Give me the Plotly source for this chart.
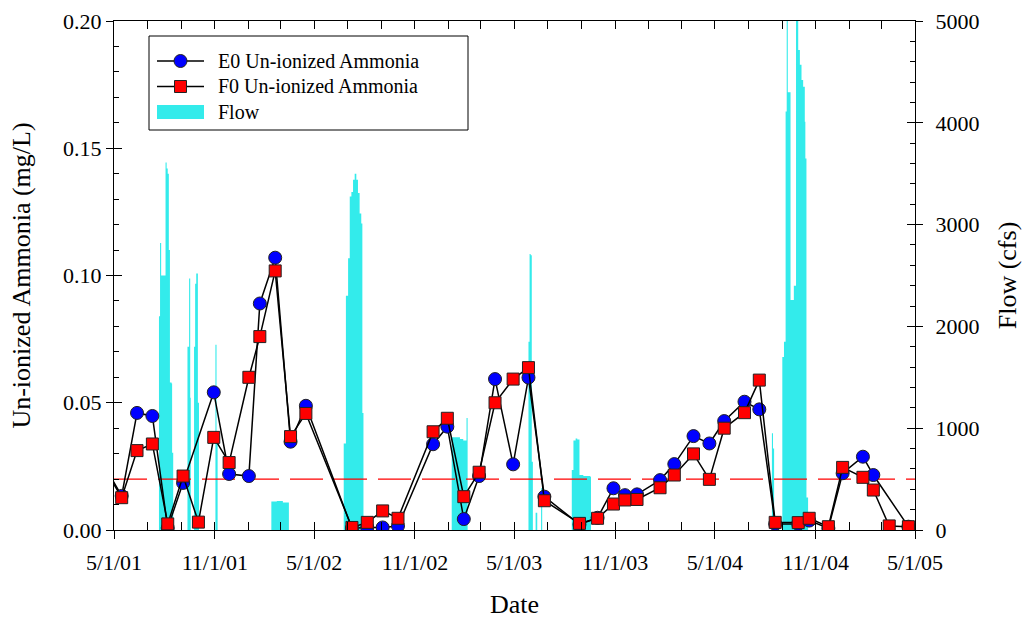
import plotly.graph_objects as go

# ---------------- data ----------------
sample_dates = [
    "2001-04-17", "2001-05-15", "2001-06-12", "2001-07-10", "2001-08-07", "2001-09-04",
    "2001-10-02", "2001-10-30", "2001-11-27", "2002-01-02", "2002-01-22", "2002-02-19",
    "2002-03-19", "2002-04-16", "2002-07-09", "2002-08-06", "2002-09-03", "2002-10-01",
    "2002-12-04", "2002-12-30", "2003-01-29", "2003-02-26", "2003-03-27", "2003-04-29",
    "2003-05-27", "2003-06-25", "2003-08-28", "2003-09-30", "2003-10-29", "2003-11-19",
    "2003-12-11", "2004-01-22", "2004-02-17", "2004-03-23", "2004-04-21", "2004-05-18",
    "2004-06-24", "2004-07-21", "2004-08-19", "2004-09-30", "2004-10-20", "2004-11-24",
    "2004-12-20", "2005-01-26", "2005-02-14", "2005-03-15", "2005-04-19",
]
e0_ammonia = [
    0.024, 0.0134, 0.0460, 0.0448, 0.0008, 0.0185,
    None, 0.0541, 0.0220, 0.0212, 0.0890, 0.1070,
    0.0347, 0.0488, 0.0007, 0.0010, 0.0010, 0.0016,
    0.0337, 0.0406, 0.0043, 0.0212, 0.0593, 0.0258,
    0.0599, 0.0131, 0.0022, 0.0048, 0.0164, 0.0137,
    0.0140, 0.0196, 0.0259, 0.0369, 0.0340, 0.0428,
    0.0504, 0.0474, 0.0024, 0.0024, 0.0037, 0.0007,
    0.0223, 0.0288, 0.0216, None, 0.0013,
]
f0_ammonia = [
    0.023, 0.0127, 0.0312, 0.0338, 0.0024, 0.0212,
    0.0031, 0.0364, 0.0265, 0.0600, 0.0760, 0.1018,
    0.0367, 0.0458, 0.0010, 0.0030, 0.0075, 0.0046,
    0.0386, 0.0439, 0.0131, 0.0227, 0.0500, 0.0593,
    0.0638, 0.0115, 0.0026, 0.0046, 0.0102, 0.0118,
    0.0120, 0.0166, 0.0216, 0.0299, 0.0199, 0.0400,
    0.0461, 0.0589, 0.0030, 0.0029, 0.0046, 0.0013,
    0.0246, 0.0207, 0.0157, 0.0016, 0.0013,
]

flow_dates = [
    "2001-05-01",
    "2001-07-22", "2001-07-24", "2001-07-26", "2001-07-29", "2001-08-03", "2001-08-05",
    "2001-08-07", "2001-08-09", "2001-08-11", "2001-08-14", "2001-08-15", "2001-08-17",
    "2001-09-12", "2001-09-15", "2001-09-17", "2001-09-18",
    "2001-09-24", "2001-09-26", "2001-09-28", "2001-10-01", "2001-10-03",
    "2001-11-02", "2001-11-04", "2001-11-06",
    "2002-02-12", "2002-02-22", "2002-03-05", "2002-03-16",
    "2002-06-24", "2002-06-28", "2002-07-02", "2002-07-05", "2002-07-08", "2002-07-11",
    "2002-07-14", "2002-07-17", "2002-07-20", "2002-07-23", "2002-07-26", "2002-07-28",
    "2002-07-30",
    "2003-01-07", "2003-01-22", "2003-01-28", "2003-02-03", "2003-02-05",
    "2003-05-27", "2003-05-29", "2003-05-31", "2003-06-02", "2003-06-04",
    "2003-06-09", "2003-06-12", "2003-06-19", "2003-06-21",
    "2003-08-14", "2003-08-17", "2003-08-21", "2003-08-24", "2003-08-28", "2003-09-04",
    "2003-09-17", "2003-09-18",
    "2004-08-13", "2004-08-15", "2004-08-17",
    "2004-09-01", "2004-09-04", "2004-09-07", "2004-09-09", "2004-09-11", "2004-09-16",
    "2004-09-22", "2004-09-26", "2004-09-30", "2004-10-03", "2004-10-06", "2004-10-09",
    "2004-10-12", "2004-10-13", "2004-10-15", "2004-10-18",
    "2005-05-01",
]
flow_cfs = [
    0,
    2100, 2820, 2500, 2500, 3610, 3550,
    3500, 2750, 1450, 1440, 760, 0,
    1800, 2470, 1300, 0,
    1800, 2420, 2520, 1250, 0,
    1820, 900, 0,
    280, 285, 270, 0,
    850, 2300, 2670, 3275, 3320, 3440,
    3500, 3440, 3310, 3110, 3010, 1150,
    0,
    910, 895, 880, 1100, 0,
    1850, 2710, 2700, 670, 0,
    170, 0, 410, 0,
    590, 880, 900, 890, 540, 530,
    520, 0,
    950, 800, 0,
    1700, 1850, 4110, 5200, 4300, 2260,
    2400, 5200, 4715, 4570, 4420, 4355,
    4010, 3650, 320, 0,
    0,
]

criterion = 0.02
x_start, x_end = "2001-05-01", "2005-05-01"
ammonia_range = [0, 0.2]
flow_range = [0, 5000]

legend_labels = ["E0 Un-ionized Ammonia", "F0 Un-ionized Ammonia", "Flow"]

# ---------------- styling ----------------
FONT = "Liberation Serif"
TICK_FONT = dict(family=FONT, size=22, color="black")
TITLE_FONT = dict(family=FONT, size=26, color="black")
CYAN = "#33EBEB"
BLUE = "#0000FF"
RED = "#FF0000"
EDGE = "#222222"

# plot-area geometry in pixels (used only for placing the legend box)
PL, PR, PT, PB = 114, 915, 21, 530


def px(xp):
    return (xp - PL) / (PR - PL)


def py(yp):
    return (PB - yp) / (PB - PT)


fig = go.Figure()

# Flow on the base subplot (drawn beneath the ammonia series)
fig.add_trace(go.Scatter(
    x=flow_dates, y=flow_cfs, name=legend_labels[2], mode="lines",
    line=dict(width=0, shape="hv", color=CYAN), fill="tozeroy", fillcolor=CYAN,
    xaxis="x", yaxis="y", showlegend=False,
))

# criterion line
fig.add_trace(go.Scatter(
    x=[x_start, x_end], y=[criterion, criterion], mode="lines",
    line=dict(color="red", width=1.2, dash="33px,11px"),
    xaxis="x", yaxis="y2", showlegend=False, hoverinfo="skip",
))

fig.add_trace(go.Scatter(
    x=sample_dates, y=e0_ammonia, name=legend_labels[0],
    mode="lines+markers", connectgaps=True,
    line=dict(color="black", width=1.5),
    marker=dict(symbol="circle", size=13, color=BLUE, line=dict(color=EDGE, width=1)),
    xaxis="x", yaxis="y2", showlegend=False,
))
fig.add_trace(go.Scatter(
    x=sample_dates, y=f0_ammonia, name=legend_labels[1],
    mode="lines+markers", connectgaps=True,
    line=dict(color="black", width=1.5),
    marker=dict(symbol="square", size=12, color=RED, line=dict(color=EDGE, width=1)),
    xaxis="x", yaxis="y2", showlegend=False,
))

# dummy traces so that the tick-only overlay axes are drawn
for xa, ya in [("x2", "y"), ("x", "y3"), ("x", "y4")]:
    fig.add_trace(go.Scatter(x=[None], y=[None], xaxis=xa, yaxis=ya,
                             showlegend=False, hoverinfo="skip"))

# ---------------- legend box (drawn in paper coordinates) ----------------
shapes = [dict(type="rect", xref="paper", yref="paper",
               x0=px(149), x1=px(468), y0=py(130), y1=py(36),
               line=dict(color="black", width=1), fillcolor="white", layer="above")]
annotations = []
rows = [61, 86.5, 112]
for i, yr in enumerate(rows):
    if i < 2:
        shapes.append(dict(type="line", xref="paper", yref="paper",
                           x0=px(157), x1=px(204), y0=py(yr), y1=py(yr),
                           line=dict(color="black", width=1.5), layer="above"))
        half = 6.5 if i == 0 else 6
        shapes.append(dict(type="circle" if i == 0 else "rect",
                           xref="paper", yref="paper",
                           xsizemode="pixel", ysizemode="pixel",
                           xanchor=px(180.5), yanchor=py(yr),
                           x0=-half, x1=half, y0=-half, y1=half,
                           fillcolor=BLUE if i == 0 else RED,
                           line=dict(color=EDGE, width=1), layer="above"))
    else:
        shapes.append(dict(type="rect", xref="paper", yref="paper",
                           x0=px(157), x1=px(204), y0=py(119), y1=py(105),
                           fillcolor=CYAN, line=dict(width=0), layer="above"))
    annotations.append(dict(text=legend_labels[i], xref="paper", yref="paper",
                            x=px(216), y=py(yr), xanchor="left", yanchor="middle",
                            showarrow=False, font=dict(family=FONT, size=20, color="black")))

fig.update_layout(
    width=1029, height=619,
    margin=dict(l=PL, r=1029 - PR, t=PT, b=619 - PB, autoexpand=False),
    paper_bgcolor="white", plot_bgcolor="white",
    font=dict(family=FONT, color="black"),
    showlegend=False,
    shapes=shapes, annotations=annotations,
    xaxis=dict(
        type="date", range=[x_start, x_end], tick0=x_start, dtick="M6",
        ticks="inside", ticklen=8, tickwidth=1, tickcolor="black",
        showticklabels=False, showline=True, linecolor="black", linewidth=1,
        mirror="allticks", showgrid=False, zeroline=False, anchor="y", automargin=False,
        minor=dict(tick0=x_start, dtick="M2", ticks="inside", ticklen=5,
                   tickcolor="black", tickwidth=1, showgrid=False),
    ),
    xaxis2=dict(
        type="date", range=[x_start, x_end], tick0=x_start, dtick="M6",
        overlaying="x", anchor="y", side="bottom", automargin=False,
        ticks="outside", ticklen=8, tickwidth=1, tickcolor="black",
        tickformat="%-m/%-d/%y", tickfont=TICK_FONT, ticklabelstandoff=5,
        showline=False, showgrid=False, zeroline=False,
        title=dict(text="Date", font=TITLE_FONT, standoff=30),
    ),
    yaxis=dict(
        range=flow_range, dtick=1000, side="right", anchor="x", automargin=False,
        ticks="inside", ticklen=8, tickwidth=1, tickcolor="black",
        showticklabels=False, showline=True, linecolor="black", linewidth=1,
        showgrid=False, zeroline=False,
        minor=dict(dtick=200, ticks="inside", ticklen=5, tickcolor="black",
                   tickwidth=1, showgrid=False),
    ),
    yaxis4=dict(
        range=flow_range, dtick=1000, side="right", anchor="x", overlaying="y",
        automargin=False,
        ticks="outside", ticklen=7, tickwidth=1, tickcolor="black",
        tickfont=TICK_FONT, ticklabelstandoff=8,
        showline=False, showgrid=False, zeroline=False,
        title=dict(text="Flow (cfs)", font=TITLE_FONT, standoff=19),
    ),
    yaxis2=dict(
        range=ammonia_range, dtick=0.05, side="left", anchor="x", overlaying="y",
        automargin=False,
        ticks="inside", ticklen=8, tickwidth=1, tickcolor="black",
        showticklabels=False, showline=True, linecolor="black", linewidth=1,
        showgrid=False, zeroline=False,
        minor=dict(dtick=0.01, ticks="inside", ticklen=5, tickcolor="black",
                   tickwidth=1, showgrid=False),
    ),
    yaxis3=dict(
        range=ammonia_range, dtick=0.05, side="left", anchor="x", overlaying="y",
        automargin=False,
        ticks="outside", ticklen=7, tickwidth=1, tickcolor="black",
        tickformat=".2f", tickfont=TICK_FONT,
        showline=False, showgrid=False, zeroline=False,
        title=dict(text="Un-ionized Ammonia (mg/L)", font=TITLE_FONT, standoff=24),
    ),
)

fig.write_html("out.html")
